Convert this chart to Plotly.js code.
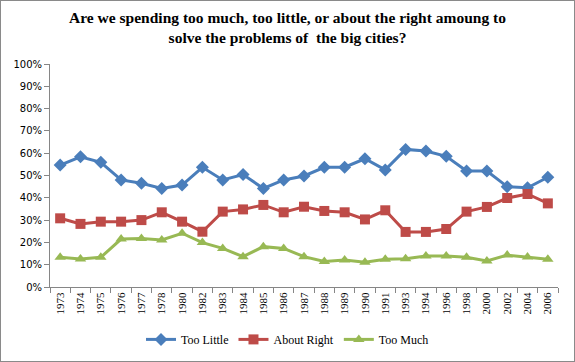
<!DOCTYPE html>
<html>
<head>
<meta charset="utf-8">
<script src="https://cdn.plot.ly/plotly-3.0.1.min.js"></script>
<style>
html,body{margin:0;padding:0;background:#fff;}
#chart{width:575px;height:362px;box-sizing:border-box;border:1px solid #8a8a8a;}
</style>
</head>
<body>
<div id="chart"></div>
<script>
const years = ["1973","1974","1975","1976","1977","1978","1980","1982","1983","1984","1985","1986","1987","1988","1989","1990","1991","1993","1994","1996","1998","2000","2002","2004","2006"];
const tooLittle = [54.7,58.4,55.9,48.0,46.5,44.2,45.7,53.7,48.0,50.4,44.2,48.0,49.8,53.7,53.7,57.5,52.5,61.7,61.0,58.6,52.0,52.0,45.0,44.5,49.2];
const aboutRight = [30.8,28.3,29.3,29.3,30.0,33.5,29.3,24.8,33.8,34.8,36.8,33.5,36.0,34.1,33.5,30.3,34.4,24.7,24.7,26.0,33.8,35.9,39.9,41.7,37.5];
const tooMuch = [13.3,12.6,13.3,21.5,21.8,21.1,24.1,19.9,17.3,13.6,18.1,17.3,13.6,11.4,12.1,11.1,12.4,12.7,13.9,13.9,13.3,11.7,14.3,13.4,12.4];
const seriesNames = ["Too Little","About Right","Too Much"];
const titleText = "Are we spending too much, too little, or about the right amoung to<br>solve the problems of  the big cities?";

const serif = "Liberation Serif";
const traces = [
  {x: years, y: tooLittle, name: seriesNames[0], type: 'scatter', mode: 'lines+markers',
   line: {color: '#4a7ebb', width: 3}, marker: {symbol: 'diamond', size: 10, color: '#4a7ebb'}},
  {x: years, y: aboutRight, name: seriesNames[1], type: 'scatter', mode: 'lines+markers',
   line: {color: '#be4b48', width: 3}, marker: {symbol: 'square', size: 10, color: '#be4b48'}},
  {x: years, y: tooMuch, name: seriesNames[2], type: 'scatter', mode: 'lines+markers',
   line: {color: '#98b954', width: 3}, marker: {symbol: 'triangle-up', size: 10, color: '#98b954'}}
];
const layout = {
  width: 573, height: 360,
  margin: {l: 49, r: 16, t: 63, b: 74, autoexpand: false},
  paper_bgcolor: '#fff', plot_bgcolor: '#fff',
  title: {text: titleText, font: {family: serif, size: 15.5, color: '#000', weight: 'bold'},
          x: 0.5, xanchor: 'center', y: 0.94, yanchor: 'top', yref: 'container'},
  xaxis: {type: 'category', range: [-0.5, 24.5], tickson: 'boundaries', ticks: 'outside', ticklen: 5,
          tickcolor: '#868686', showline: true, linecolor: '#868686', linewidth: 1, showgrid: false,
          tickangle: -90, tickfont: {family: serif, size: 11, color: '#000'}, automargin: false},
  yaxis: {range: [0, 100], dtick: 10, ticksuffix: '%', ticks: 'outside', ticklen: 5, tickcolor: '#868686',
          showline: true, linecolor: '#868686', linewidth: 1, showgrid: false, zeroline: false, automargin: false,
          tickfont: {family: 'DejaVu Sans', size: 10, color: '#000'}},
  legend: {orientation: 'h', x: 0.5, xanchor: 'center', xref: 'container', y: 0.06, yanchor: 'middle', yref: 'container',
           font: {family: serif, size: 12, color: '#000'}, itemwidth: 30},
  showlegend: true
};
Plotly.newPlot('chart', traces, layout, {displayModeBar: false, staticPlot: true});
</script>
</body>
</html>
